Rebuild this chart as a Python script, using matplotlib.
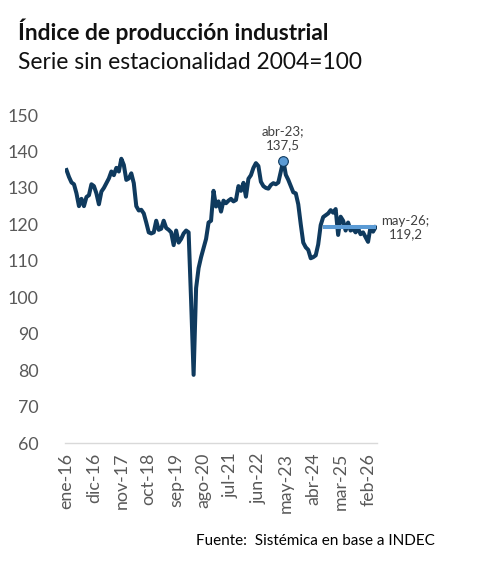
import matplotlib
matplotlib.use("Agg")
import matplotlib.pyplot as plt

plt.rcParams["font.family"] = ["Lato", "DejaVu Sans"]

MESES = ["ene", "feb", "mar", "abr", "may", "jun",
         "jul", "ago", "sep", "oct", "nov", "dic"]

# ene-16 ... may-26, indice desestacionalizado (2004=100)
ipi = [
    134.9, 133.0, 131.5, 131.0, 128.5, 125.0, 127.0, 125.0, 127.5, 128.0, 131.0, 130.5,
    128.5, 125.5, 129.0, 130.0, 131.3, 132.6, 134.5, 133.5, 135.5, 134.5, 138.0, 136.3,
    132.2, 132.6, 134.0, 131.3, 125.0, 123.8, 124.0, 123.0, 120.5, 117.8, 117.5, 117.8,
    121.0, 118.5, 118.8, 121.0, 119.0, 118.5, 117.8, 114.3, 118.3, 115.0, 116.0, 117.5,
    118.3, 117.8, 99.0, 78.7, 102.5, 108.0, 111.0, 113.5, 116.0, 120.5, 121.0, 129.2,
    124.9, 126.3, 123.5, 126.5, 125.8, 126.5, 127.0, 126.3, 126.7, 130.5, 129.2, 131.4,
    127.6, 132.5, 133.5, 135.5, 136.8, 136.0, 131.7, 130.5, 130.0, 129.8, 130.8, 131.3,
    131.0, 131.5, 134.5, 137.5, 133.6, 132.2, 130.5, 128.8, 128.5, 125.5, 120.0, 115.0,
    113.7, 113.0, 110.7, 111.0, 111.5, 114.5, 119.8, 122.0, 122.5, 123.0, 123.9, 123.2,
    124.2, 117.1, 122.1, 121.0, 118.3, 120.5, 118.3, 118.8, 117.8, 118.9, 117.3, 117.8,
    116.5, 115.2, 119.3, 118.0, 119.2,
]
etiquetas = [f"{MESES[i % 12]}-{16 + i // 12}" for i in range(len(ipi))]

# linea de referencia horizontal (desde ago-24)
ref_desde = 103
ref_valor = 119.2

pico_idx = 87  # abr-23

fig = plt.figure(figsize=(4.94, 5.74), dpi=100)
ax = fig.add_axes([0.1316, 0.2282, 0.6316, 0.5714])

x = list(range(len(ipi)))
ax.plot(x, ipi, color="#0f3a5e", lw=2.9, solid_joinstyle="round", zorder=3)
ax.plot(x[ref_desde:], [ref_valor] * (len(ipi) - ref_desde),
        color="#5b9bd5", lw=2.9, solid_capstyle="butt", zorder=4)
ax.plot([pico_idx], [ipi[pico_idx]], "o", ms=7, mfc="#5b9bd5",
        mec="#0f3a5e", mew=0.8, zorder=5)

ax.text(pico_idx, ipi[pico_idx] + 2.6, f"{etiquetas[pico_idx]};\n137,5",
        ha="center", va="bottom", fontsize=9.5, color="#404040", linespacing=1.15)
ax.text(len(ipi) + 11, ref_valor, f"{etiquetas[-1]};\n119,2",
        ha="center", va="center", fontsize=9.5, color="#404040", linespacing=1.15,
        clip_on=False)

ax.set_xlim(-0.6, len(ipi) - 0.4)
ax.set_ylim(60, 150)
ax.set_yticks(range(60, 151, 10))
ticks = list(range(0, len(ipi), 11))
ax.set_xticks(ticks)
ax.set_xticklabels([etiquetas[t] for t in ticks], rotation=90)

for s in ["top", "right", "left"]:
    ax.spines[s].set_visible(False)
ax.spines["bottom"].set_color("#d9d9d9")
ax.spines["bottom"].set_linewidth(1.0)
ax.tick_params(axis="both", length=0, labelsize=12.8, colors="#595959")
ax.tick_params(axis="x", pad=7)
ax.tick_params(axis="y", pad=19)

fig.text(0.036, 1 - 40 / 574, "Índice de producción industrial",
         fontsize=16.4, fontweight="bold", color="#111111")
fig.text(0.036, 1 - 69 / 574, "Serie sin estacionalidad 2004=100",
         fontsize=16.4, color="#111111")
fig.text(435 / 494, 1 - 545 / 574, "Fuente:  Sistémica en base a INDEC",
         ha="right", fontsize=11, color="#000000")

fig.savefig("out.png", dpi=100)
